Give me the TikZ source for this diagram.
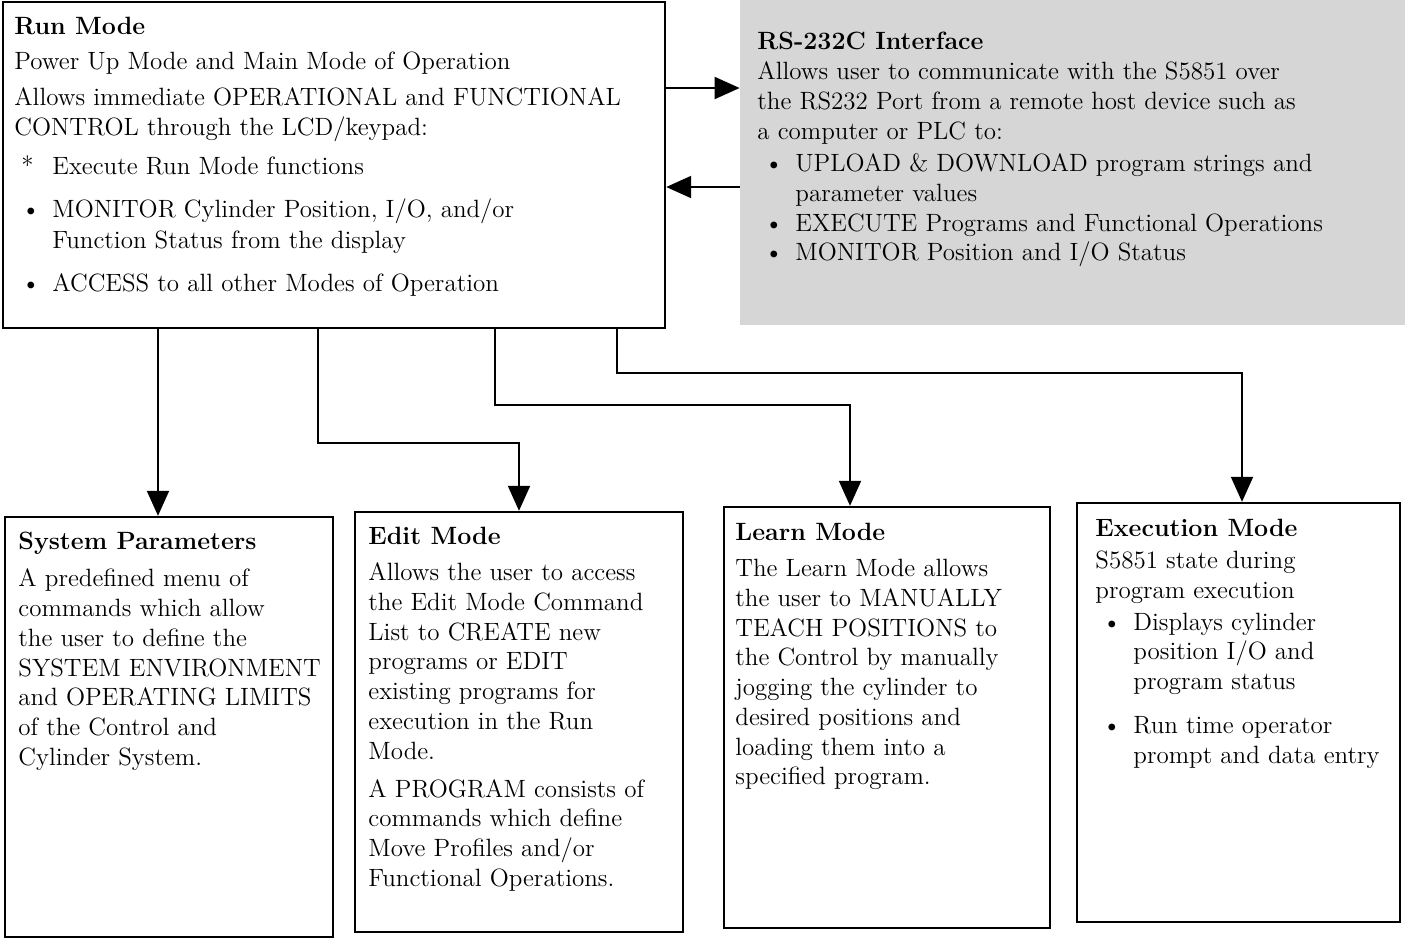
\documentclass[tikz,border=0pt]{standalone}
\usepackage{fontspec}
\usetikzlibrary{arrows.meta,fit,positioning}

\newcommand{\listsym}[1]{\makebox[19pt][l]{\hspace{3.5pt}#1}}
\newcommand{\listind}{\hspace*{19pt}}

\begin{document}
\begin{tikzpicture}[
  x=0.5pt, y=-0.5pt,
  panel/.style={draw,line width=1.2pt,inner sep=0pt},
  shaded/.style={fill=black!16,inner sep=0pt},
  txt/.style={anchor=north west,align=left,inner sep=0pt,
    font=\fontsize{12.5}{14.85}\selectfont},
  link/.style={line width=1pt,-{Triangle[length=12.5pt,width=11pt]}}
]
  \useasboundingbox (0,0) rectangle (1407,939);

  % boxes
  \node[panel,fit={(3,2) (665,328)}] (run) {};
  \node[shaded,fit={(740,0) (1405,325)}] (rs) {};
  \node[panel,fit={(5,517) (333,937)}] (sys) {};
  \node[panel,fit={(355,512) (683,932)}] (edit) {};
  \node[panel,fit={(724,507) (1050,928)}] (learn) {};
  \node[panel,fit={(1077,503) (1400,922)}] (exec) {};

  % texts
  \node[txt] (runtxt) at (14,17) {\textbf{Run Mode}\\[2.7pt]
    Power Up Mode and Main Mode of Operation\\[3.2pt]
    Allows immediate OPERATIONAL and FUNCTIONAL\\
    CONTROL through the LCD/keypad:\\[4.7pt]
    \listsym{*}Execute Run Mode functions\\[6.7pt]
    \listsym{\textbullet}MONITOR Cylinder Position, I/O, and/or\\[0.5pt]
    \listind Function Status from the display\\[6.7pt]
    \listsym{\textbullet}ACCESS to all other Modes of Operation};
  \node[txt] (rstxt) at (757,32) {\textbf{RS-232C Interface}\\
    Allows user to communicate with the S5851 over\\
    the RS232 Port from a remote host device such as\\
    a computer or PLC to:\\[1.5pt]
    \listsym{\textbullet}UPLOAD \& DOWNLOAD program strings and\\
    \listind parameter values\\
    \listsym{\textbullet}EXECUTE Programs and Functional Operations\\
    \listsym{\textbullet}MONITOR Position and I/O Status};
  \node[txt] (systxt) at (18,532) {\textbf{System Parameters}\\[3.7pt]
    A predefined menu of\\
    commands which allow\\
    the user to define the\\
    SYSTEM ENVIRONMENT\\
    and OPERATING LIMITS\\
    of the Control and\\
    Cylinder System.};
  \node[txt] (edittxt) at (368,527) {\textbf{Edit Mode}\\[3.2pt]
    Allows the user to access\\
    the Edit Mode Command\\
    List to CREATE new\\
    programs or EDIT\\
    existing programs for\\
    execution in the Run\\
    Mode.\\[4.2pt]
    A PROGRAM consists of\\
    commands which define\\
    Move Profiles and/or\\
    Functional Operations.};
  \node[txt] (learntxt) at (735,523) {\textbf{Learn Mode}\\[3.2pt]
    The Learn Mode allows\\
    the user to MANUALLY\\
    TEACH POSITIONS to\\
    the Control by manually\\
    jogging the cylinder to\\
    desired positions and\\
    loading them into a\\
    specified program.};
  \node[txt] (exectxt) at (1095,519) {\textbf{Execution Mode}\\[1.2pt]
    S5851 state during\\
    program execution\\[1pt]
    \listsym{\textbullet}Displays cylinder\\
    \listind position I/O and\\
    \listind program status\\[7pt]
    \listsym{\textbullet}Run time operator\\
    \listind prompt and data entry};

  % connectors
  \draw[link] (run.east |- 0,88) -- (rs.west |- 0,88);
  \draw[link] (rs.west |- 0,187) -- (run.east |- 0,187);
  \draw[link] (run.south -| 158,0) -- (sys.north -| 158,0);
  \draw[link] (run.south -| 318,0) -- (318,443) -| (edit.north);
  \draw[link] (run.south -| 495,0) -- (495,405) -| (learn.north -| 850,0);
  \draw[link] (run.south -| 617,0) -- (617,373) -| (exec.north -| 1242,0);
\end{tikzpicture}
\end{document}
